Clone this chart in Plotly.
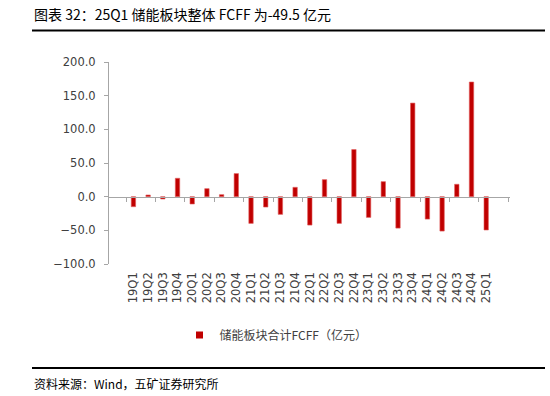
import plotly.graph_objects as go

quarters = ["19Q1","19Q2","19Q3","19Q4","20Q1","20Q2","20Q3","20Q4",
            "21Q1","21Q2","21Q3","21Q4","22Q1","22Q2","22Q3","22Q4",
            "23Q1","23Q2","23Q3","23Q4","24Q1","24Q2","24Q3","24Q4","25Q1"]
fcff = [-14.9, 2.5, -3.5, 27.3, -10.9, 11.9, 3.0, 34.3,
        -39.7, -15.4, -26.3, 13.9, -42.2, 25.3, -39.7, 70.0,
        -30.8, 22.3, -46.7, 139.0, -33.3, -51.1, 18.4, 170.3, -49.5]
series_name = "储能板块合计FCFF（亿元）"
title_text = "图表 32：25Q1 储能板块整体 FCFF 为-49.5 亿元"
source_text = "资料来源：Wind，五矿证券研究所"
y_range = [-100, 200]
y_ticks = [-100, -50, 0, 50, 100, 150, 200]

W, H = 550, 396
ml, mr, mt, mb = 109, 40, 62, 132
RED = "#C00000"

fig = go.Figure()
fig.add_trace(go.Bar(x=quarters, y=fcff, name=series_name, showlegend=False,
                     marker=dict(color=RED, line=dict(width=0.6, color="#E06060"))))
# legend entry with small square marker
fig.add_trace(go.Scatter(x=[quarters[0]], y=[None], mode="markers", name=series_name,
                         marker=dict(symbol="square", size=7, color=RED),
                         showlegend=True, hoverinfo="skip"))
fig.add_trace(go.Scatter(x=quarters, y=[None]*len(quarters), xaxis="x2", yaxis="y",
                         mode="markers", showlegend=False, hoverinfo="skip"))

zero_pos = (0 - y_range[0]) / (y_range[1] - y_range[0])

pw = W - ml - mr
ph = H - mt - mb
def px_x(p): return (p - ml) / pw
def px_y(p): return (H - mb - p) / ph

axis_font = dict(family="DejaVu Sans", size=11.5, color="#404040")
fig.update_layout(
    width=W, height=H,
    margin=dict(l=ml, r=mr, t=mt, b=mb),
    paper_bgcolor="white", plot_bgcolor="white",
    bargap=0.7,
    showlegend=True,
    legend=dict(orientation="h", x=px_x(276), xanchor="center", y=px_y(335), yanchor="middle",
                font=dict(family="Noto Sans CJK SC", size=12, color="#404040"),
                itemwidth=30),
    xaxis=dict(type="category", showline=False, ticks="", tickangle=-90,
               tickfont=axis_font, showgrid=False, zeroline=False,
               anchor="y", ticklabelstandoff=5),
    xaxis2=dict(type="category", overlaying="x", matches="x", anchor="free",
                position=zero_pos, showline=True, linecolor="#a6a6a6", linewidth=1,
                ticks="outside", ticklen=4, tickcolor="#a6a6a6", tickson="boundaries",
                showticklabels=False, showgrid=False, zeroline=False),
    yaxis=dict(range=y_range, tickvals=y_ticks, tickformat=".1f",
               showline=True, linecolor="#a6a6a6", linewidth=1,
               ticks="outside", ticklen=4, tickcolor="#a6a6a6",
               showgrid=False, zeroline=False, tickfont=axis_font,
               ticklabelstandoff=6),
)

fig.add_annotation(text=title_text, xref="paper", yref="paper",
                   x=px_x(32), y=px_y(14), xanchor="left", yanchor="middle", showarrow=False,
                   font=dict(family="Noto Sans CJK SC", size=14, color="#000000"))
fig.add_annotation(text=source_text, xref="paper", yref="paper",
                   x=px_x(32), y=px_y(383), xanchor="left", yanchor="middle", showarrow=False,
                   font=dict(family="Noto Sans CJK SC", size=12, color="#000000"))

fig.add_shape(type="line", xref="paper", yref="paper",
              x0=px_x(32), x1=px_x(545), y0=px_y(30.5), y1=px_y(30.5),
              line=dict(color="#000000", width=2))
fig.add_shape(type="line", xref="paper", yref="paper",
              x0=px_x(32), x1=px_x(545), y0=px_y(368), y1=px_y(368),
              line=dict(color="#000000", width=2))

fig.write_html("out.html", config={"displayModeBar": False},
               post_script="document.body.style.margin='0';")
